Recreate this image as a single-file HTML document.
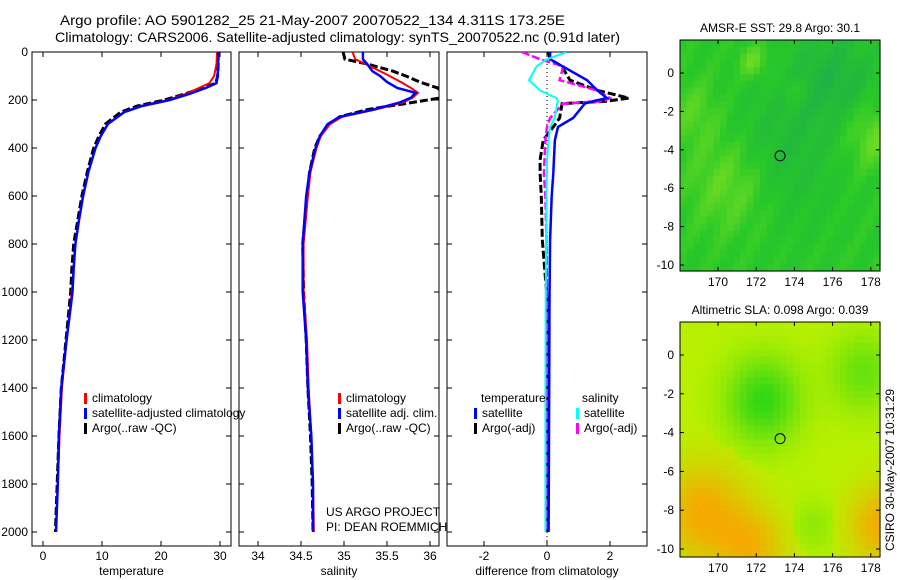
<!DOCTYPE html>
<html><head><meta charset="utf-8"><style>
body{margin:0;background:#fff;}
svg{display:block;font-family:"Liberation Sans",sans-serif;font-size:12px;}
</style></head><body>
<svg id="fig" width="900" height="580">
<text x="60" y="25" font-size="14" textLength="505" lengthAdjust="spacingAndGlyphs">Argo profile: AO 5901282_25 21-May-2007 20070522_134 4.311S 173.25E</text>
<text x="55" y="42" font-size="14" textLength="565" lengthAdjust="spacingAndGlyphs">Climatology: CARS2006. Satellite-adjusted climatology: synTS_20070522.nc (0.91d later)</text>
<g id="p1"></g>
<g id="p2"></g>
<g id="p3"></g>
<g id="m1"></g>
<g id="m2"></g>
<text transform="translate(894,470) rotate(-90)" text-anchor="middle">CSIRO 30-May-2007 10:31:29</text>
</svg>
<script>
// depth ticks
const depthTicks=[0,200,400,600,800,1000,1200,1400,1600,1800,2000];
// temperature profiles
const tDepth=[0,50,100,130,150,175,200,225,250,300,350,400,500,600,700,800,900,1000,1200,1400,1600,1800,2000];
const tArgo=[29.7,29.7,29.6,29.3,27.0,24.0,20.6,16.0,13.2,10.6,9.5,8.6,7.5,6.6,5.9,5.2,4.9,4.7,3.9,3.1,2.7,2.4,2.1];
const tClim=[29.5,29.4,29.0,28.2,26.4,24.2,21.2,16.5,13.8,11.0,9.8,8.9,7.7,6.8,6.1,5.5,5.2,4.9,4.0,3.2,2.8,2.5,2.2];
const tSat=[29.7,29.7,29.6,29.4,27.6,24.8,21.5,16.8,13.8,11.0,9.8,8.9,7.7,6.8,6.1,5.5,5.2,5.0,4.0,3.1,2.7,2.5,2.2];
const tTicks=[0,10,20,30];
// salinity profiles
const sDepth=[0,30,50,80,100,125,150,170,190,210,240,270,300,350,400,500,600,800,1000,1200,1400,1600,1800,2000];
const sArgo=[34.99,35.01,35.27,35.57,35.72,35.88,36.09,36.15,36.15,35.80,35.27,34.95,34.83,34.72,34.66,34.60,34.57,34.52,34.53,34.56,34.58,34.61,34.63,34.64];
const sClim=[35.10,35.13,35.25,35.42,35.53,35.66,35.78,35.86,35.80,35.69,35.36,34.98,34.84,34.73,34.68,34.61,34.58,34.53,34.53,34.57,34.59,34.62,34.64,34.65];
const sSat=[35.22,35.22,35.27,35.33,35.42,35.50,35.62,35.83,35.78,35.65,35.34,34.95,34.81,34.72,34.67,34.60,34.56,34.52,34.52,34.56,34.58,34.62,34.64,34.64];
const sTicks=[34,34.5,35,35.5,36];
// differences
const dDepth=[0,30,60,117,160,192,205,215,275,312,367,450,505,600,783,1020,1400,2000];
const dTSat=[0.1,0.1,0.5,1.27,1.6,1.9,1.46,1.2,0.83,0.35,0.25,0.22,0.2,0.15,0.1,0.08,0.07,0.05];
const dTArgo=[0.05,0.1,0.47,0.73,1.6,2.6,1.9,0.48,0.4,0.2,-0.12,-0.22,-0.22,-0.18,-0.15,0.0,0.0,0.0];
const dSSat=[0.62,0.0,-0.33,-0.57,-0.22,0.3,0.35,0.32,0.25,0.1,0.05,0.0,0.0,-0.02,-0.03,-0.04,-0.05,-0.05];
const dSArgo=[-0.8,-0.22,0.52,0.4,1.58,2.0,1.78,0.5,0.1,0.0,-0.05,-0.08,-0.1,-0.05,-0.02,0.0,0.0,0.0];
const dTicks=[-2,0,2];
// map ticks
const lonTicks=[170,172,174,176,178];
const latTicks=[0,-2,-4,-6,-8,-10];

const NS='http://www.w3.org/2000/svg';
function mk(tag,attrs,parent){const e=document.createElementNS(NS,tag);for(const k in attrs)e.setAttribute(k,attrs[k]);parent.appendChild(e);return e;}
const yD=d=>52+d*0.24;
function panel(g,x0,x1,vmin,vmax,pmin,pmax,ticks,label,showY){
  const xs=v=>pmin+(v-vmin)/(vmax-vmin)*(pmax-pmin);
  const fr=mk('rect',{x:x0,y:52,width:x1-x0,height:494,fill:'none',stroke:'#000','stroke-width':1},g);
  
  ticks.forEach(t=>{const x=xs(t);
    mk('line',{x1:x,x2:x,y1:546,y2:541,stroke:'#000'},g);mk('line',{x1:x,x2:x,y1:52,y2:57,stroke:'#000'},g);
    const tx=mk('text',{x:x,y:560,'text-anchor':'middle'},g);tx.textContent=t;
    });
  depthTicks.forEach(d=>{const y=yD(d);
    mk('line',{x1:x0,x2:x0+5,y1:y,y2:y,stroke:'#000'},g);mk('line',{x1:x1,x2:x1-5,y1:y,y2:y,stroke:'#000'},g);
    if(showY){const tx=mk('text',{x:x0-4,y:y+4,'text-anchor':'end'},g);tx.textContent=d;
      }});
  const lb=mk('text',{x:(x0+x1)/2,y:575,'text-anchor':'middle'},g);lb.textContent=label;
  
  return xs;
}
function line(g,xs,depths,vals,color,w,dash,name,clipId){
  const p=mk('polyline',{points:depths.map((d,i)=>xs(vals[i]).toFixed(1)+','+yD(d).toFixed(1)).join(' '),fill:'none',stroke:color,'stroke-width':w,'clip-path':'url(#'+clipId+')'},g);
  if(dash)p.setAttribute('stroke-dasharray',dash);
  
}
function clip(id,x0,x1){const svg=document.getElementById('fig');let defs=svg.querySelector('defs')||mk('defs',{},svg);
  const c=mk('clipPath',{id:id},defs);mk('rect',{x:x0,y:52,width:x1-x0,height:494},c);}
function legend(g,x,y,items){items.forEach((it,i)=>{
  mk('rect',{x:x,y:y+i*15-9,width:3,height:11,fill:it[1]},g);
  const t=mk('text',{x:x+8,y:y+i*15},g);t.textContent=it[0];
  });}

const p1=document.getElementById('p1'),p2=document.getElementById('p2'),p3=document.getElementById('p3');
clip('c1',32,231);clip('c2',239,439);clip('c3',447,647);
const x1s=panel(p1,32,231,0,30,43,220,tTicks,'temperature',true);
line(p1,x1s,tDepth,tArgo,'#000',3,'8,3','argo-temperature-line','c1');
line(p1,x1s,tDepth,tClim,'#f00',2,null,'climatology-temperature-line','c1');
line(p1,x1s,tDepth,tSat,'#00f',2.5,null,'satellite-temperature-line','c1');
legend(p1,84,402,[['climatology','#f00'],['satellite-adjusted climatology','#00f'],['Argo(..raw -QC)','#000']]);
const x2s=panel(p2,239,439,34,36,258,430,sTicks,'salinity',false);
line(p2,x2s,sDepth,sArgo,'#000',3,'8,3','argo-salinity-line','c2');
line(p2,x2s,sDepth,sClim,'#f00',2,null,'climatology-salinity-line','c2');
line(p2,x2s,sDepth,sSat,'#00f',2.5,null,'satellite-salinity-line','c2');
legend(p2,338,402,[['climatology','#f00'],['satellite adj. clim.','#00f'],['Argo(..raw -QC)','#000']]);
[['US ARGO PROJECT',516],['PI: DEAN ROEMMICH',531]].forEach(a=>{const t=mk('text',{x:326,y:a[1]},p2);t.textContent=a[0];
  });
const x3s=panel(p3,447,647,-2,2,484,610,dTicks,'difference from climatology',false);
mk('line',{x1:x3s(0),x2:x3s(0),y1:52,y2:546,stroke:'#000','stroke-dasharray':'1,3'},p3);
line(p3,x3s,dDepth,dTArgo,'#000',3,'8,3','argo-temperature-diff-line','c3');
line(p3,x3s,dDepth,dSArgo,'#f0f',2.5,'8,3','argo-salinity-diff-line','c3');
line(p3,x3s,dDepth,dTSat,'#00f',2.5,null,'satellite-temperature-diff-line','c3');
line(p3,x3s,dDepth,dSSat,'#0ff',2,null,'satellite-salinity-diff-line','c3');
{const t=mk('text',{x:481,y:402},p3);t.textContent='temperature';
 const t2=mk('text',{x:582,y:402},p3);t2.textContent='salinity';}
legend(p3,474,417,[['satellite','#00f'],['Argo(-adj)','#000']]);
legend(p3,576,417,[['satellite','#0ff'],['Argo(-adj)','#f0f']]);

// maps
function mapPanel(g,x0,y0,w,h,title,colorFn,lat0y,lat10y){
  const lonX=l=>718+(l-170)*19.1;
  const latY=l=>lat0y+(-l)*(lat10y-lat0y)/10;
  const nx=30,ny=34,cw=w/nx,ch=h/ny;
  for(let i=0;i<nx;i++)for(let j=0;j<ny;j++){
    mk('rect',{x:x0+i*cw,y:y0+j*ch,width:cw+0.6,height:ch+0.6,fill:colorFn(i/nx,j/ny)},g);}
  const fr=mk('rect',{x:x0,y:y0,width:w,height:h,fill:'none',stroke:'#000'},g);
  
  const tt=mk('text',{x:x0+w/2,y:y0-8,'text-anchor':'middle'},g);tt.textContent=title;
  
  lonTicks.forEach(l=>{const x=lonX(l);mk('line',{x1:x,x2:x,y1:y0+h,y2:y0+h-4,stroke:'#000'},g);mk('line',{x1:x,x2:x,y1:y0,y2:y0+4,stroke:'#000'},g);
    const t=mk('text',{x:x,y:y0+h+15,'text-anchor':'middle'},g);t.textContent=l;});
  latTicks.forEach(l=>{const y=latY(l);mk('line',{x1:x0,x2:x0+4,y1:y,y2:y,stroke:'#000'},g);mk('line',{x1:x0+w,x2:x0+w-4,y1:y,y2:y,stroke:'#000'},g);
    const t=mk('text',{x:x0-6,y:y+4,'text-anchor':'end'},g);t.textContent=l;});
  const c=mk('circle',{cx:lonX(173.25),cy:latY(-4.311),r:5,fill:'none',stroke:'#000'},g);
  
}
function gss(x,y,cx,cy,s){return Math.exp(-((x-cx)**2+(y-cy)**2)/(2*s*s));}
function mix(a,b,t){t=Math.max(0,Math.min(1,t));return 'rgb('+a.map((v,i)=>Math.round(v+(b[i]-v)*t)).join(',')+')';}
function sst(x,y){
  const light=0.7*gss(x,y,0.25,0.6,0.15)+0.6*gss(x,y,0.95,0.4,0.1)+0.6*gss(x,y,0.35,0.08,0.05)+0.4*gss(x,y,0.05,0.3,0.1)+0.4*gss(x,y,0.55,0.2,0.04)+0.12*Math.sin(x*37+y*23);
  const dark=0.5*gss(x,y,0.45,0.5,0.2)+0.6*gss(x,y,0.75,0.15,0.15);
  return light>dark?mix([40,200,40],[150,230,30],light-dark):mix([40,200,40],[30,170,80],dark-light);
}
function sla(x,y){
  const o=gss(x,y,0.1,0.8,0.15)+0.8*gss(x,y,0.35,0.95,0.12)+gss(x,y,1.0,0.85,0.12);
  const g2=gss(x,y,0.4,0.32,0.13)+0.6*gss(x,y,0.9,0.2,0.12)+0.3*gss(x,y,0.65,0.85,0.08);
  return o>g2?mix([185,240,0],[245,170,0],o):mix([185,240,0],[50,215,20],g2);
}
mapPanel(document.getElementById('m1'),680,40,200,231,'AMSR-E SST: 29.8 Argo: 30.1',sst,73,265);
mapPanel(document.getElementById('m2'),680,322,200,235,'Altimetric SLA: 0.098 Argo: 0.039',sla,355,549);
</script>
</body></html>
